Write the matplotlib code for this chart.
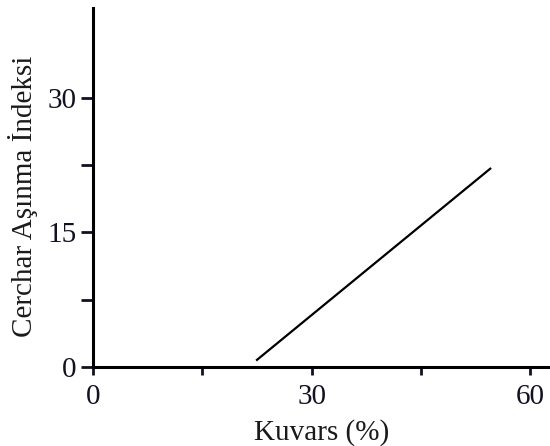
import matplotlib.pyplot as plt

plt.rcParams['font.family'] = ['Liberation Serif', 'DejaVu Serif']

# line
kuvars = [22.5, 54.5]
cerchar = [0.8, 22.1]

x_major = [0, 30, 60]
x_minor = [15, 45]
y_major = [0, 15, 30]
y_minor = [7.5, 22.5]

fig = plt.figure(figsize=(5.5, 4.46), dpi=100)
ax = fig.add_axes([0.169, 0.177, 0.831, 0.805])

ax.plot(kuvars, cerchar, color='black', lw=1.6)

ax.set_xlim(0, 62.7)
ax.set_ylim(0, 40)
ax.spines['top'].set_visible(False)
ax.spines['right'].set_visible(False)
for s in ['left', 'bottom']:
    ax.spines[s].set_linewidth(2.2)

ax.set_xticks(x_major)
ax.set_xticks(x_minor, minor=True)
ax.set_yticks(y_major)
ax.set_yticks(y_minor, minor=True)
ax.tick_params(which='both', direction='out', width=2, labelsize=21, colors='#111122')
ax.tick_params(axis='x', which='both', length=6, pad=6)
ax.tick_params(axis='y', which='both', length=9, pad=3)

ax.set_xlabel('Kuvars (%)', fontsize=21, color='#1a1a1a', labelpad=7)
ax.set_ylabel('Cerchar Aşınma İndeksi', fontsize=21, color='#1a1a1a')
ax.yaxis.set_label_coords(-0.12, 0.475)

fig.savefig('out.png', dpi=100)
